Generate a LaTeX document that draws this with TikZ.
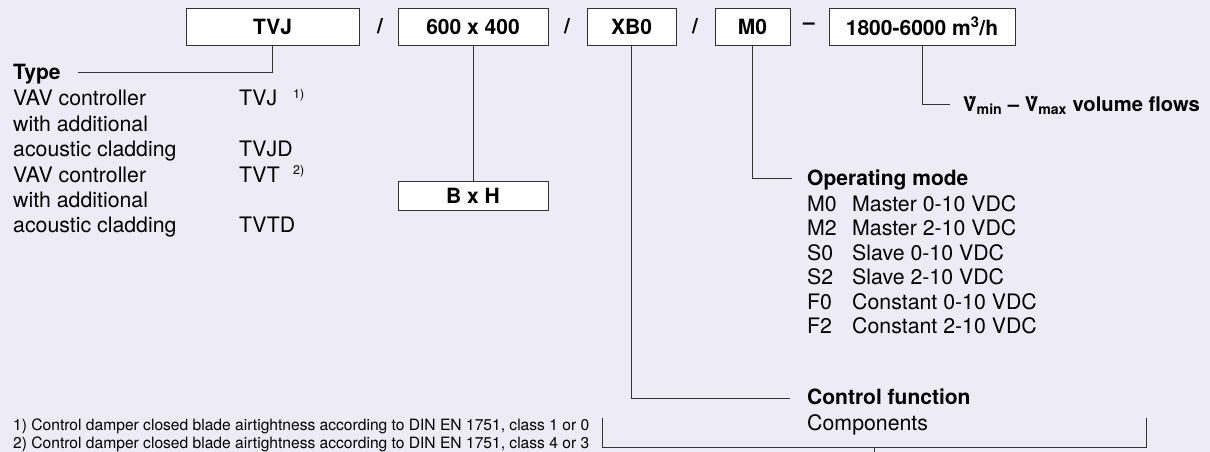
\documentclass[tikz,border=0pt]{standalone}
\usepackage{fontspec}
\setmainfont{TeX Gyre Heros}
\definecolor{bglav}{RGB}{237,235,245}
\definecolor{linegray}{RGB}{50,50,50}

\begin{document}
\begin{tikzpicture}[x=1pt, y=-1pt,
    codebox/.style={draw=linegray, fill=white, line width=0.9pt, minimum height=37pt, inner sep=0pt, font=\fontsize{21}{25}\selectfont\bfseries},
    sep/.style={inner sep=0pt, font=\fontsize{21}{25}\selectfont\bfseries},
    txt/.style={anchor=base west, inner sep=0pt, font=\fontsize{21.3}{25}\selectfont},
    head/.style={anchor=base west, inner sep=0pt, font=\fontsize{21}{25}\selectfont\bfseries},
    foot/.style={anchor=base west, inner sep=0pt, font=\fontsize{15.6}{18}\selectfont},
    sup/.style={anchor=base west, inner sep=0pt, font=\fontsize{12.5}{14}\selectfont},
    conn/.style={draw=linegray, line width=0.9pt}]
    \fill [bglav] (0,0) rectangle (1210,452);
    \useasboundingbox (0,0) rectangle (1210,452);
    % type key
    \node [codebox, minimum width=173pt] (tvj) at (272.5,26.5) {TVJ};
    \node [sep] (s1) at (380,26.5) {/};
    \node [codebox, minimum width=150pt] (size) at (473,26.5) {600 x 400};
    \node [sep] (s2) at (567,26.5) {/};
    \node [codebox, minimum width=89pt] (xb) at (631.5,26.5) {XB0};
    \node [sep] (s3) at (695,26.5) {/};
    \node [codebox, minimum width=75pt] (mode) at (752.5,26.5) {M0};
    \node [sep] (s4) at (809,26.5) {--};
    \node [codebox, minimum width=186pt] (flow) at (922,26.5) {1800-6000 m\textsuperscript{3}/h};
    \node [codebox, minimum width=150pt, minimum height=29pt] (bxh) at (473,195.5) {B x H};
    % type
    \node [head] (type) at (13,79) {Type};
    \node [txt] (t1) at (13,106) {VAV controller};
    \node [txt] (t2) at (13,131) {with additional};
    \node [txt] (t3) at (13,156) {acoustic cladding};
    \node [txt] (t4) at (13,182) {VAV controller};
    \node [txt] (t5) at (13,207) {with additional};
    \node [txt] (t6) at (13,232) {acoustic cladding};
    \node [txt] (c1) at (239,106) {TVJ};
    \node [txt] (c3) at (239,156) {TVJD};
    \node [txt] (c4) at (239,182) {TVT};
    \node [txt] (c6) at (239,232) {TVTD};
    \node [sup] (n1) at (293,98) {1)};
    \node [sup] (n2) at (293,174) {2)};
    % operating mode
    \node [head] (ophd) at (807,185) {Operating mode};
    \node [txt] (m1) at (807,211) {M0};
    \node [txt] (m2) at (807,235.5) {M2};
    \node [txt] (m3) at (807,260) {S0};
    \node [txt] (m4) at (807,284.5) {S2};
    \node [txt] (m5) at (807,309) {F0};
    \node [txt] (m6) at (807,333.5) {F2};
    \node [txt] (d1) at (852,211) {Master 0-10 VDC};
    \node [txt] (d2) at (852,235.5) {Master 2-10 VDC};
    \node [txt] (d3) at (852,260) {Slave 0-10 VDC};
    \node [txt] (d4) at (852,284.5) {Slave 2-10 VDC};
    \node [txt] (d5) at (852,309) {Constant 0-10 VDC};
    \node [txt] (d6) at (852,333.5) {Constant 2-10 VDC};
    % volume flow, control function
    \node [head, font=\fontsize{20.2}{24}\selectfont\bfseries] (vhd) at (963,111) {V̇\textsubscript{min} -- V̇\textsubscript{max} volume flows};
    \node [head] (cfhd) at (807,404) {Control function};
    \node [txt] (comp) at (807,430) {Components};
    % footnotes
    \node [foot] (f1) at (13,430) {1) Control damper closed blade airtightness according to DIN EN 1751, class 1 or 0};
    \node [foot] (f2) at (13,448) {2) Control damper closed blade airtightness according to DIN EN 1751, class 4 or 3};
    \coordinate (bl) at (602,418);
    \coordinate (br) at (1146,418);
    \coordinate (bt) at (874,452);
    % connectors
    \draw [conn] (tvj.south) |- ([xshift=17pt]type.east |- 0,72);
    \draw [conn] (size.south) -- (bxh.north);
    \draw [conn] (xb.south) |- ([xshift=-17pt]cfhd.west |- 0,398);
    \draw [conn] (mode.south) |- ([xshift=-15pt]ophd.west |- 0,178);
    \draw [conn] (flow.south) |- ([xshift=-13pt]vhd.west |- 0,104);
    \draw [conn] (bl) |- (br |- 0,447.5) -- (br);
    \draw [conn] (bt |- 0,447.5) -- (bt);
\end{tikzpicture}
\end{document}
